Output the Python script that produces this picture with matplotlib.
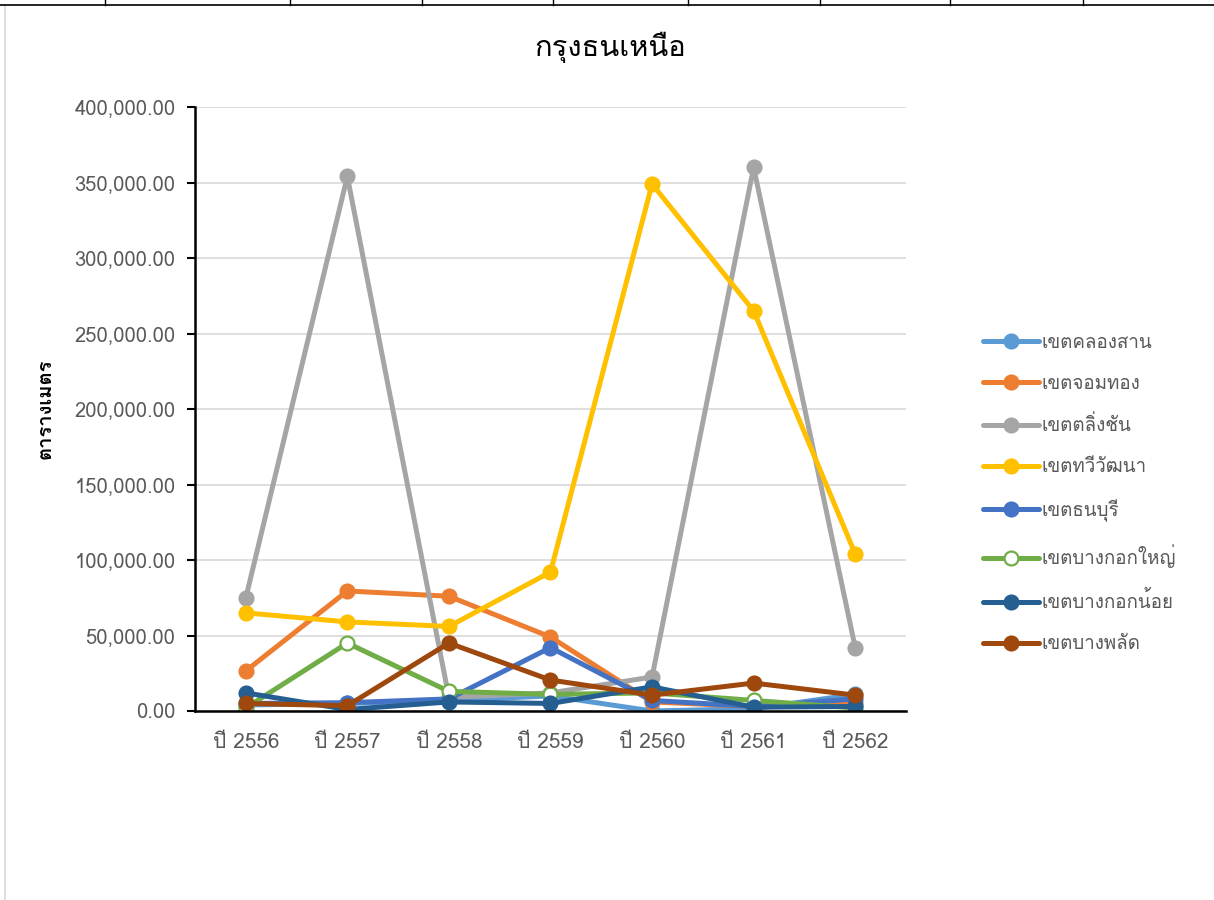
import numpy as np
import matplotlib
matplotlib.use('Agg')
import matplotlib.pyplot as plt
from matplotlib import font_manager
from matplotlib.lines import Line2D
from matplotlib.ticker import FuncFormatter

# ================================
years = ['ปี 2556', 'ปี 2557', 'ปี 2558', 'ปี 2559', 'ปี 2560', 'ปี 2561', 'ปี 2562']

khlong_san = [4000, 5000, 7000, 10000, 0, 1500, 11000]
chom_thong = [26500, 79500, 76000, 49000, 6000, 3000, 5000]
taling_chan = [74800, 354000, 9000, 12000, 22500, 360000, 42000]
thawi_watthana = [65000, 59000, 56000, 92000, 349000, 265000, 104000]
thonburi = [5000, 5500, 8000, 42000, 7000, 3000, 8000]
bangkok_yai = [2000, 45000, 13000, 11000, 12000, 7000, 2000]
bangkok_noi = [12000, 1000, 6000, 5000, 16000, 2500, 3000]
bang_phlat = [5000, 3500, 45000, 20500, 10500, 18500, 10500]

series_names = ['เขตคลองสาน', 'เขตจอมทอง', 'เขตตลิ่งชัน', 'เขตทวีวัฒนา',
                'เขตธนบุรี', 'เขตบางกอกใหญ่', 'เขตบางกอกน้อย', 'เขตบางพลัด']
series_colors = ['#5B9BD5', '#ED7D31', '#A5A5A5', '#FFC000',
                 '#4472C4', '#70AD47', '#255E91', '#9E480E']
series_values = [khlong_san, chom_thong, taling_chan, thawi_watthana,
                 thonburi, bangkok_yai, bangkok_noi, bang_phlat]

title = 'กรุงธนเหนือ'
y_label = 'ตารางเมตร'


# find a font with thai glyphs
def thai_font():
    for f in font_manager.fontManager.ttflist:
        try:
            ft = matplotlib.ft2font.FT2Font(f.fname)
            if ord('ก') in ft.get_charmap():
                return f.name
        except Exception:
            pass
    return 'DejaVu Sans'

tf = thai_font()
plt.rcParams['font.family'] = [tf, 'DejaVu Sans']

fig = plt.figure(figsize=(12.14, 9), dpi=100)
ax = fig.add_axes([0.1606, 0.21, 0.5857, 0.6711])

x = np.arange(len(years))
for name, vals, col in zip(series_names, series_values, series_colors):
    face = 'white' if name == 'เขตบางกอกใหญ่' else col
    ax.plot(x, vals, color=col, lw=3.6, marker='o', ms=10,
            markerfacecolor=face, markeredgecolor=col, markeredgewidth=1.6,
            label=name, solid_capstyle='round')

ax.set_xlim(-0.5, 6.5)
ax.set_ylim(0, 400000)
ax.set_yticks(np.arange(0, 400001, 50000))
ax.yaxis.set_major_formatter(FuncFormatter(lambda v, p: '{:,.2f}'.format(v)))
ax.set_xticks(x)
ax.set_xticklabels(years)
ax.grid(axis='y', color='#d9d9d9', lw=1.2)
ax.set_axisbelow(True)
for s in ['top', 'right']:
    ax.spines[s].set_visible(False)
ax.spines['left'].set_linewidth(1.8)
ax.spines['bottom'].set_linewidth(1.8)
ax.tick_params(axis='y', labelsize=14.5, labelcolor='#595959', length=6, width=1.5, pad=8)
ax.tick_params(axis='x', labelsize=15, labelcolor='#595959', length=0, pad=16)

fig.suptitle(title, x=0.503, y=0.965, fontsize=21)
ax.set_ylabel(y_label, fontsize=14.5, fontweight='bold', labelpad=14)

ax.legend(loc='center left', bbox_to_anchor=(1.084, 0.36), frameon=False,
          fontsize=13.5, handlelength=3.0, labelspacing=1.22, handletextpad=0.15,
          labelcolor='#595959')

# frame
fig.add_artist(Line2D([0.004, 0.004], [0, 0.994], color='#d9d9d9', lw=1.2))
fig.add_artist(Line2D([0, 1], [0.994, 0.994], color='black', lw=1.2))
for xp in [105, 290, 422, 553, 688, 820, 950, 1083]:
    fig.add_artist(Line2D([xp / 1214, xp / 1214], [0.994, 1], color='black', lw=1))

fig.savefig('out.png', dpi=100, facecolor='white')
